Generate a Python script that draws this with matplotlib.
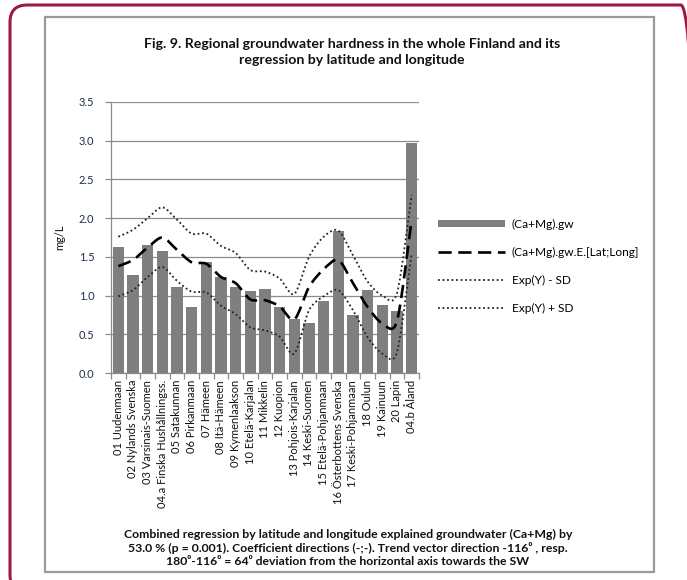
import matplotlib
matplotlib.use("Agg")
import matplotlib.pyplot as plt
import numpy as np
from matplotlib.path import Path
from matplotlib.patches import PathPatch, FancyBboxPatch, Rectangle
from matplotlib.lines import Line2D

plt.rcParams['font.family'] = ['Lato', 'DejaVu Sans']

regions = [
    "01 Uudenmaan", "02 Nylands Svenska", "03 Varsinais-Suomen",
    "04.a Finska Hushållningss.", "05 Satakunnan", "06 Pirkanmaan",
    "07 Hämeen", "08 Itä-Hämeen", "09 Kymenlaakson", "10 Etelä-Karjalan",
    "11 Mikkelin", "12 Kuopion", "13 Pohjois-Karjalan", "14 Keski-Suomen",
    "15 Etelä-Pohjanmaan", "16 Österbottens Svenska", "17 Keski-Pohjanmaan",
    "18 Oulun", "19 Kainuun", "20 Lapin", "04.b Åland",
]
hardness_gw = [1.63, 1.27, 1.65, 1.57, 1.11, 0.85, 1.43, 1.24, 1.11, 1.06,
               1.08, 0.85, 0.70, 0.64, 0.93, 1.84, 0.75, 1.07, 0.88, 0.80, 2.97]
regression_est = [1.38, 1.46, 1.62, 1.75, 1.59, 1.43, 1.41, 1.24, 1.16, 0.95,
                  0.94, 0.86, 0.69, 1.11, 1.34, 1.46, 1.16, 0.85, 0.64, 0.67, 1.98]
exp_minus_sd = [0.99, 1.07, 1.24, 1.37, 1.19, 1.05, 1.04, 0.87, 0.76, 0.59,
                0.55, 0.47, 0.25, 0.81, 0.99, 1.07, 0.81, 0.46, 0.25, 0.27, 1.55]
exp_plus_sd = [1.76, 1.85, 2.00, 2.14, 1.98, 1.80, 1.80, 1.64, 1.55, 1.33,
               1.31, 1.22, 1.02, 1.50, 1.76, 1.84, 1.52, 1.18, 1.00, 1.03, 2.30]


def smooth_path(x, y, k=7.0):
    """Cubic Bezier path through the points (spreadsheet-style smoothed line)."""
    pts = np.column_stack([x, y]).astype(float)
    n = len(pts)
    verts = [pts[0]]
    codes = [Path.MOVETO]
    for i in range(n - 1):
        p0 = pts[i - 1] if i > 0 else pts[i]
        p1 = pts[i]
        p2 = pts[i + 1]
        p3 = pts[i + 2] if i + 2 < n else pts[i + 1]
        c1 = p1 + (p2 - p0) / k
        c2 = p2 - (p3 - p1) / k
        verts += [c1, c2, p2]
        codes += [Path.CURVE4] * 3
    return Path(verts, codes)


W, H = 687, 580
fig = plt.figure(figsize=(W / 100, H / 100), dpi=100)

# outer rounded maroon frame
fig.patches.append(FancyBboxPatch((10 / W, 1 - 592 / H), 688 / W, 587 / H,
                                  boxstyle="round,pad=0,rounding_size=0.025",
                                  transform=fig.transFigure, fill=False,
                                  edgecolor="#9b1b47", linewidth=2.2,
                                  mutation_aspect=W / H))
# inner grey chart-area frame
fig.patches.append(Rectangle((45 / W, 1 - 572 / H), 609 / W, 555 / H,
                             transform=fig.transFigure, fill=False,
                             edgecolor="#9a9a9a", linewidth=1.6))

ax = fig.add_axes([111 / W, 1 - 373 / H, 308 / W, 271 / H])
x = np.arange(len(regions))

ax.bar(x, hardness_gw, width=0.76, color="#7f7f7f", zorder=2,
       label="(Ca+Mg).gw")

dash_style = (0, (5, 2.5))
dot_style = (0, (1, 1.5))
ax.add_patch(PathPatch(smooth_path(x, regression_est), fill=False,
                       edgecolor="black", linewidth=1.9,
                       linestyle=dash_style, zorder=3))
ax.add_patch(PathPatch(smooth_path(x, exp_minus_sd), fill=False,
                       edgecolor="#222222", linewidth=1.3,
                       linestyle=dot_style, zorder=3))
ax.add_patch(PathPatch(smooth_path(x, exp_plus_sd), fill=False,
                       edgecolor="#222222", linewidth=1.3,
                       linestyle=dot_style, zorder=3))

ax.set_xlim(-0.5, len(regions) - 0.5)
ax.set_ylim(0, 3.5)
yt = np.arange(0, 3.51, 0.5)
ax.set_yticks(yt)
ax.set_yticklabels([f"{v:.1f}" for v in yt], fontsize=8, color="#1e2c48")
ax.yaxis.grid(True, color="#8c8c8c", linewidth=0.9, zorder=0)
ax.set_axisbelow(True)

# category labels centred, tick marks on category boundaries
ax.set_xticks(x)
ax.set_xticklabels(regions, rotation=90, fontsize=8, color="#111111")
ax.tick_params(axis="x", length=0, pad=5)
ax.set_xticks(np.arange(-0.5, len(regions)), minor=True)
ax.tick_params(axis="x", which="minor", length=4, color="#8c8c8c", width=0.9)
ax.tick_params(axis="y", length=4, color="#8c8c8c", width=0.9, pad=8)

for side in ("top", "right"):
    ax.spines[side].set_visible(False)
for side in ("left", "bottom"):
    ax.spines[side].set_color("#8c8c8c")
    ax.spines[side].set_linewidth(0.9)

ax.set_ylabel("mg/L", fontsize=8, color="#111111", labelpad=10)

handles = [
    Rectangle((0, 0), 1, 1, facecolor="#7f7f7f", edgecolor="none"),
    Line2D([], [], color="black", linewidth=1.9, linestyle=dash_style),
    Line2D([], [], color="#222222", linewidth=1.3, linestyle=dot_style),
    Line2D([], [], color="#222222", linewidth=1.3, linestyle=dot_style),
]
labels = ["(Ca+Mg).gw", "(Ca+Mg).gw.E.[Lat;Long]", "Exp(Y) - SD", "Exp(Y) + SD"]
fig.legend(handles, labels, loc="upper left",
           bbox_to_anchor=(433 / W, 1 - 214 / H), frameon=False,
           fontsize=8.6, handlelength=5.6, handleheight=0.5,
           handletextpad=0.6, labelspacing=1.42, borderaxespad=0)

fig.text(352 / W, 1 - 52 / H,
         "Fig. 9. Regional groundwater hardness in the whole Finland and its\n"
         "regression by latitude and longitude",
         ha="center", va="center", fontsize=10.2, fontweight="bold",
         linespacing=1.3, color="#111111")

fig.text(348 / W, 1 - 548 / H,
         "Combined regression by latitude and longitude explained groundwater (Ca+Mg) by\n"
         "53.0 % (p = 0.001). Coefficient directions (-;-). Trend vector direction -116\u2070 , resp.\n"
         "180\u2070-116\u2070 = 64\u2070 deviation from the horizontal axis towards the SW",
         ha="center", va="center", fontsize=8.8, fontweight="bold",
         linespacing=1.25, color="#111111")

fig.savefig("out.png", dpi=100)
